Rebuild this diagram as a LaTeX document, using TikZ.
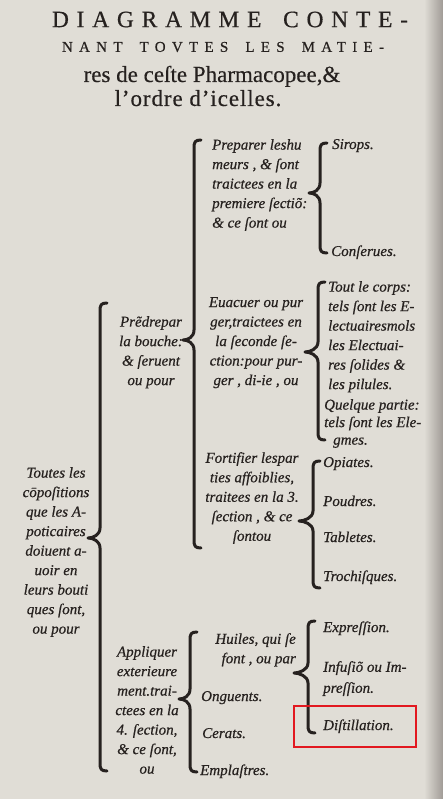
\documentclass[tikz,border=0pt]{standalone}
\usepackage{fontspec}
\setmainfont{Liberation Serif}
\usetikzlibrary{calc}
\definecolor{paper}{RGB}{224,221,214}
\definecolor{edge}{RGB}{160,155,150}
\definecolor{ink}{RGB}{38,33,31}
\definecolor{hlred}{RGB}{226,24,32}
\newcommand\bodyfont{\fontsize{15}{19.5}\selectfont\itshape\addfontfeature{FakeBold=0.6}}
\newcommand\curlybrace[3]{%
  \draw[bracestyle] let \p1=(#1), \p2=(#2), \p3=(#3) in
    (\x1+7pt,\y1) .. controls (\x1+1pt,\y1) and (\x1,\y1-2pt) .. (\x1,\y1-8pt)
    -- (\x1,\y2+10pt) .. controls (\x1,\y2+3pt) and (\x2+5pt,\y2) .. (\x2,\y2)
    .. controls (\x2+5pt,\y2) and (\x1,\y2-3pt) .. (\x1,\y2-10pt)
    -- (\x1,\y3+8pt) .. controls (\x1,\y3+2pt) and (\x1+1pt,\y3) .. (\x1+7pt,\y3);}
\tikzset{
  txt/.style={font=\bodyfont, text=ink, inner sep=0pt},
  blkc/.style={txt, align=center, anchor=north},
  blkl/.style={txt, align=left, anchor=north west},
  blkr/.style={txt, align=right, anchor=north east},
  item/.style={txt, anchor=base west},
  bracestyle/.style={draw=ink, line width=3pt, line cap=round, line join=round},
  titleA/.style={text=ink, inner sep=0pt, font=\fontsize{23.5}{26}\selectfont\addfontfeature{LetterSpace=33,FakeBold=0.5}},
  titleB/.style={text=ink, inner sep=0pt, font=\fontsize{15}{18}\selectfont\addfontfeature{LetterSpace=42,FakeBold=0.5}},
  titleC/.style={text=ink, inner sep=0pt, anchor=base, font=\fontsize{23}{26}\selectfont\addfontfeature{FakeBold=0.4}},
  highlight/.style={draw=hlred, line width=2pt, inner sep=0pt, minimum width=122pt, minimum height=41pt}
}
\begin{document}
\begin{tikzpicture}[x=1pt,y=-1pt]
\useasboundingbox (0,0) rectangle (443,799);
\fill[paper] (0,0) rectangle (443,799);
\shade[left color=paper, right color=edge] (424,0) rectangle (443,799);

% title
\node[titleA] (t1) at (230,19.5) {DIAGRAMME\hspace{8pt} CONTE-};
\node[titleB] (t2) at (223,47) {NANT\hspace{7pt} TOVTES\hspace{7pt} LES\hspace{7pt} MATIE-};
\node[titleC] (t3) at (212,82) {res de ceſte Pharmacopee,\&};
\node[titleC, font=\fontsize{23}{26}\selectfont\addfontfeature{FakeBold=0.4,LetterSpace=4}] (t4) at (198,106) {l’ordre d’icelles.};

% level 0
\node[blkc] (root) at (56,467) {Toutes les\\cōpoſitions\\que les A-\\poticaires\\doiuent a-\\uoir en\\leurs bouti\\ques ſont,\\ou pour};

% level 1
\node[blkc] (pred) at (151,316) {Prẽdrepar\\la bouche:\\\& ſeruent\\ou pour};
\node[blkc] (appl) at (147,646) {Appliquer\\exterieure\\ment.trai-\\ctees en la\\4. ſection,\\\& ce ſont,\\ou};

% level 2
\node[blkl] (prep) at (212,139) {Preparer leshu\\meurs , \& ſont\\traictees en la\\premiere ſectiõ:\\\& ce ſont ou};
\node[blkc] (euac) at (256,297) {Euacuer ou pur\\ger,traictees en\\la ſeconde ſe-\\ction:pour pur-\\ger , di-ie , ou};
\node[blkc] (fort) at (252,452) {Fortifier lespar\\ties affoiblies,\\traitees en la 3.\\ſection , \& ce\\ſontou};
\node[blkr] (huil) at (296,633) {Huiles, qui ſe\\font , ou par};
\node[item] (ongu) at (201,701) {Onguents.};
\node[item] (cera) at (202,738) {Cerats.};
\node[item] (empl) at (200,775) {Emplaſtres.};

% level 3
\node[item] (sirp) at (332,149) {Sirops.};
\node[item] (cons) at (331,256) {Conſerues.};
\node[blkl] (tout) at (328,281) {Tout le corps:\\tels ſont les E-\\lectuairesmols\\les Electuai-\\res ſolides \&\\les pilules.};
\node[blkl, font=\fontsize{15}{17.5}\selectfont\itshape\addfontfeature{FakeBold=0.6}] (quel) at (324,399) {Quelque partie:\\tels ſont les Ele-\\\hspace*{9pt}gmes.};
\node[item] (opia) at (323,467) {Opiates.};
\node[item] (poud) at (323,506) {Poudres.};
\node[item] (tabl) at (323,542) {Tabletes.};
\node[item] (troc) at (323,581) {Trochiſques.};
\node[item] (expr) at (323,632) {Expreſſion.};
\node[blkl, font=\fontsize{15}{21}\selectfont\itshape\addfontfeature{FakeBold=0.6}] (infu) at (323,661) {Infuſiõ ou Im-\\preſſion.};
\node[item] (dist) at (323,730) {Diſtillation.};

% brace anchors
\coordinate (b0t) at (100,303); \coordinate (b0m) at (88,538);  \coordinate (b0b) at (100,771);
\coordinate (b1t) at (194,140); \coordinate (b1m) at (183,340); \coordinate (b1b) at (194,548);
\coordinate (b2t) at (190,632); \coordinate (b2m) at (179,699); \coordinate (b2b) at (190,772);
\coordinate (b3t) at (320,143); \coordinate (b3m) at (309,193); \coordinate (b3b) at (320,253);
\coordinate (b4t) at (318,282); \coordinate (b4m) at (305,352); \coordinate (b4b) at (318,440);
\coordinate (b5t) at (313,461); \coordinate (b5m) at (299,521); \coordinate (b5b) at (313,588);
\coordinate (b6t) at (308,621); \coordinate (b6m) at (294,673); \coordinate (b6b) at (308,733);

\curlybrace{b0t}{b0m}{b0b}
\curlybrace{b1t}{b1m}{b1b}
\curlybrace{b2t}{b2m}{b2b}
\curlybrace{b3t}{b3m}{b3b}
\curlybrace{b4t}{b4m}{b4b}
\curlybrace{b5t}{b5m}{b5b}
\curlybrace{b6t}{b6m}{b6b}

\node[highlight] (hl) at (355,726.5) {};
\end{tikzpicture}
\end{document}
